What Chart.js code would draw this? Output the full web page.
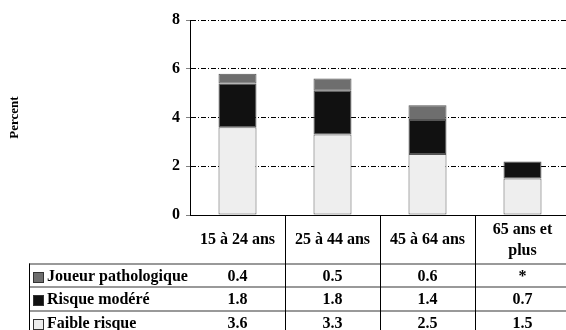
<!DOCTYPE html>
<html>
<head>
<meta charset="utf-8">
<script src="https://cdn.jsdelivr.net/npm/chart.js@4"></script>
<style>
  html, body { margin: 0; padding: 0; background: #fff; overflow: hidden; }
  #wrap { width: 570px; height: 330px; }
</style>
</head>
<body>
<div id="wrap"><canvas id="chart" width="570" height="330"></canvas></div>
<script>
const categories = ['15 à 24 ans', '25 à 44 ans', '45 à 64 ans', ['65 ans et', 'plus']];
const faibleRisque = [3.6, 3.3, 2.5, 1.5];
const risqueModere = [1.8, 1.8, 1.4, 0.7];
const joueurPatho = [0.4, 0.5, 0.6, null];
const yTicks = [0, 2, 4, 6, 8];

const FONT = '"Liberation Serif", "Times New Roman", serif';

// table rows, top to bottom (reverse of stacking order)
const tableRows = [
    { label: 'Joueur pathologique', data: joueurPatho, color: '#6e6e6e' },
    { label: 'Risque modéré', data: risqueModere, color: '#111111' },
    { label: 'Faible risque', data: faibleRisque, color: '#eeeeee' }
];

const dataTable = {
    id: 'dataTable',
    afterDraw(chart) {
        const { ctx, chartArea, scales: { x, y } } = chart;
        const zeroY = Math.round(y.getPixelForValue(0));
        const colW = chartArea.width / categories.length;
        const headerBottom = 263.5;
        const rowH = 23.5;
        const tableLeft = 29;
        const bottom = chart.height;

        ctx.save();
        // row separators
        ctx.strokeStyle = '#777';
        ctx.lineWidth = 1.5;
        for (let r = 0; r < tableRows.length; r++) {
            const ly = Math.round(headerBottom + r * rowH);
            ctx.beginPath();
            ctx.moveTo(tableLeft, ly);
            ctx.lineTo(chartArea.right, ly);
            ctx.stroke();
        }
        // column separators
        ctx.strokeStyle = '#000';
        ctx.lineWidth = 1;
        ctx.beginPath();
        ctx.moveTo(tableLeft + 0.5, headerBottom);
        ctx.lineTo(tableLeft + 0.5, bottom);
        ctx.stroke();
        for (let i = 1; i <= categories.length; i++) {
            const lx = Math.round(chartArea.left + i * colW) + 0.5;
            ctx.beginPath();
            ctx.moveTo(lx, zeroY);
            ctx.lineTo(lx, bottom);
            ctx.stroke();
        }

        ctx.fillStyle = '#000';
        ctx.font = 'bold 16px ' + FONT;
        ctx.textAlign = 'center';
        ctx.textBaseline = 'middle';
        // header
        categories.forEach((cat, i) => {
            const cx = x.getPixelForValue(i);
            const lines = Array.isArray(cat) ? cat : [cat];
            const mid = (zeroY + headerBottom) / 2 + 1;
            lines.forEach((ln, k) => {
                ctx.fillText(ln, cx, mid + (k - (lines.length - 1) / 2) * 21);
            });
        });
        // rows
        tableRows.forEach((row, r) => {
            const cy = headerBottom + r * rowH + rowH / 2 + 1.5;
            ctx.textAlign = 'center';
            row.data.forEach((v, i) => {
                ctx.fillText(v === null ? '*' : v.toFixed(1), x.getPixelForValue(i), cy);
            });
            const sq = Math.round(cy - 5);
            ctx.fillStyle = row.color;
            ctx.fillRect(33, sq, 11, 11);
            ctx.strokeStyle = '#333';
            ctx.strokeRect(33.5, sq + 0.5, 10, 10);
            ctx.fillStyle = '#000';
            ctx.textAlign = 'left';
            ctx.fillText(row.label, 47, cy);
        });
        ctx.restore();
    }
};

new Chart(document.getElementById('chart'), {
    type: 'bar',
    data: {
        labels: categories,
        datasets: [
            { label: 'Faible risque', data: faibleRisque, backgroundColor: '#eeeeee' },
            { label: 'Risque modéré', data: risqueModere, backgroundColor: '#111111' },
            { label: 'Joueur pathologique', data: joueurPatho, backgroundColor: '#6e6e6e' }
        ]
    },
    options: {
        responsive: false,
        animation: false,
        layout: { padding: { top: 20, right: 0, bottom: 115, left: 0 } },
        datasets: {
            bar: {
                categoryPercentage: 1,
                barPercentage: 0.4,
                borderWidth: 1,
                borderColor: '#555',
                borderSkipped: false
            }
        },
        plugins: {
            legend: { display: false },
            tooltip: { enabled: false }
        },
        scales: {
            x: {
                stacked: true,
                display: false
            },
            y: {
                stacked: true,
                min: 0,
                max: 8,
                afterBuildTicks: s => { s.ticks = yTicks.map(v => ({ value: v })); },
                afterFit: s => { s.width = 190; },
                ticks: {
                    color: '#000',
                    padding: 6,
                    font: { family: FONT, size: 16, weight: 'bold' }
                },
                grid: {
                    color: '#000',
                    tickColor: '#808080',
                    tickLength: 4,
                    lineWidth: 1
                },
                border: {
                    display: true,
                    color: '#000',
                    width: 1,
                    dash: c => c.tick && c.tick.value === 0 ? [] : [5, 2, 1, 2]
                },
                title: {
                    display: true,
                    text: 'Percent',
                    color: '#000',
                    padding: { top: 7, bottom: 0 },
                    font: { family: FONT, size: 13, weight: 'bold' }
                }
            }
        }
    },
    plugins: [dataTable]
});
</script>
</body>
</html>
